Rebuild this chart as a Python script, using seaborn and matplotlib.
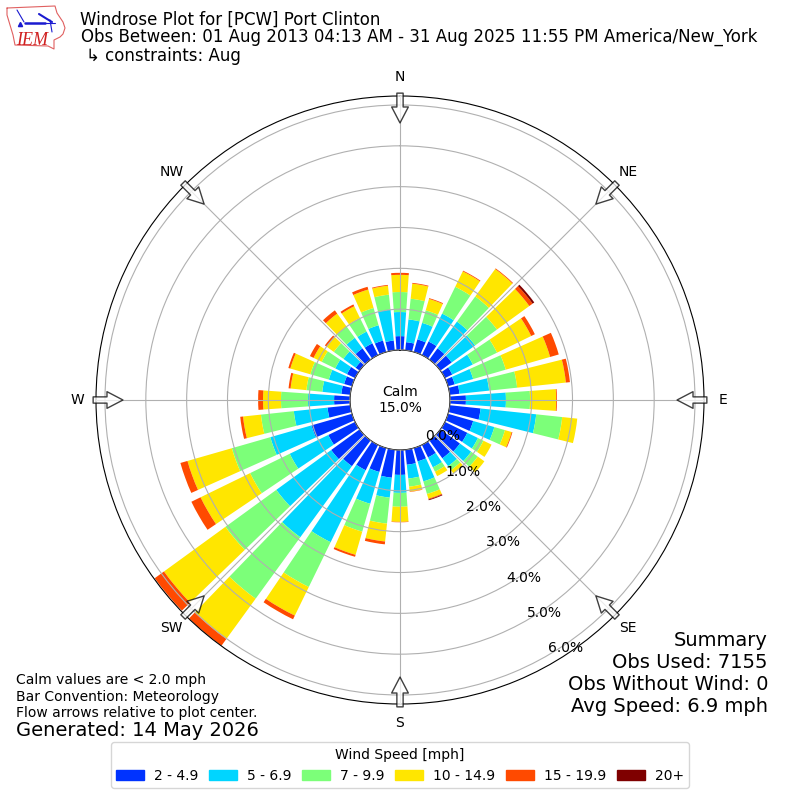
import numpy as np
import pandas as pd
import matplotlib
matplotlib.use("Agg")
import matplotlib.pyplot as plt
from matplotlib.patches import Patch
import seaborn as sns

directions = list(range(0, 360, 10))
speed_labels = ["2 - 4.9", "5 - 6.9", "7 - 9.9", "10 - 14.9", "15 - 19.9", "20+"]
speed_colors = ["#0033ff", "#00d5ff", "#7cff79", "#ffe600", "#ff4a00", "#7f0000"]

# percent of obs per direction, one list per speed bin
pct_2_5 = [.34, .20, .32, .37, .34, .34, .20, .17, .24, .39, .76, .64, .61, .59, .54, .34, .34, .37,
           .61, .69, .61, .69, .78, .86, .73, 1.03, .56, .39, .22, .20, .22, .12, .34, .32, .29, .24]
pct_5_7 = [.59, .56, .42, .76, .81, .71, .56, .47, .73, .98, 1.37, .54, .29, .34, .24, .27, .51, .34,
           .44, .49, .81, 1.96, 2.15, 1.66, 1.05, 1.05, .83, .64, .47, .39, .32, .37, .32, .32, .39, .76]
pct_7_10 = [.49, .51, .32, .73, .76, .66, .66, .83, .69, .59, .64, .27, .15, .20, .12, .12, .32, .20,
            .34, .64, .71, 1.22, 1.86, 1.54, 1.08, .98, .81, .66, .39, .47, .37, .29, .34, .37, .44, .37]
pct_10_15 = [.42, .37, .29, .42, .83, .98, .93, 1.13, 1.20, .64, .37, .17, .22, .20, .10, .12, .12, .12,
             .37, .44, .59, .78, 1.22, 1.86, 1.35, 1.13, .44, .44, .39, .51, .22, .22, .39, .32, .47, .22]
pct_15_20 = [.05, .02, .02, .02, .02, .10, .10, .22, .10, .02, 0, .02, 0, 0, 0, 0, .02, .01,
             .01, .07, .05, .10, .20, .28, .25, .18, .07, .12, .05, .05, .10, .05, .10, .05, .07, .02]
pct_20_up = [0, 0, 0, 0, 0, .05, 0, 0, 0, 0, 0, 0, 0, 0, 0, 0, .02, 0,
             0, 0, 0, 0, 0, 0, 0, 0, 0, 0, 0, 0, 0, 0, 0, 0, 0, 0]

compass = ["N", "NE", "E", "SE", "S", "SW", "W", "NW"]
ring_values = [0, 1, 2, 3, 4, 5, 6]

# rough logo trace, pixels
logo_x = [7, 55, 57, 63, 65, 63, 60, 54, 54, 48, 15, 13, 10, 7, 7]
logo_y = [8, 6, 13, 22, 28, 34, 37, 40, 49, 46, 45, 35, 25, 15, 8]

sns.set_style("white", {"axes.edgecolor": "black", "text.color": "black", "xtick.color": "black",
                        "ytick.color": "black", "grid.color": "#b0b0b0"})

rows = []
for label, values in zip(speed_labels, [pct_2_5, pct_5_7, pct_7_10, pct_10_15, pct_15_20, pct_20_up]):
    rows.append(pd.DataFrame({"theta": np.radians(directions), "speed": label, "pct": values}))
df = pd.concat(rows, ignore_index=True)

fig = plt.figure(figsize=(8, 8), dpi=100)
ax = fig.add_axes([96 / 800, 96 / 800, 608 / 800, 608 / 800], projection="polar")
ax.set_theta_zero_location("N")
ax.set_theta_direction(-1)

# seaborn puts the first hue on top of the stack, so hand them over reversed
sns.histplot(data=df, x="theta", hue="speed", weights="pct", multiple="stack",
             bins=list(np.radians(np.arange(-5, 356, 10))), shrink=0.8, hue_order=speed_labels[::-1],
             palette=speed_colors[::-1], alpha=1, linewidth=0, legend=False, ax=ax)

ax.set_xlabel("")
ax.set_ylabel("")
ax.set_rorigin(-1.224)
ax.set_rlim(0, 6.22)
ax.set_xticks(np.radians(np.arange(0, 360, 45)))
ax.set_xticklabels(compass, fontsize=10)
ax.tick_params(axis="x", pad=3)
ax.set_yticks(ring_values)
ax.set_yticklabels([f"{v:.1f}%" for v in ring_values], fontsize=10)
ax.set_rlabel_position(150)
ax.grid(True, color="#b0b0b0", linewidth=0.8)
ax.set_axisbelow(False)

# flow arrows pointing at the centre
for a in np.arange(0, 360, 45):
    ax.annotate("", xy=(np.radians(a), 5.56), xytext=(np.radians(a), 6.29), annotation_clip=False,
                arrowprops=dict(facecolor="white", edgecolor="black", alpha=0.75, width=4.5,
                                headwidth=12, headlength=11.5, shrink=0, linewidth=1))

ax.text(0.5, 0.5, "Calm\n15.0%", transform=ax.transAxes, ha="center", va="center", fontsize=10)

fig.text(80 / 800, 1 - 25 / 800, "Windrose Plot for [PCW] Port Clinton", fontsize=12)
fig.text(81 / 800, 1 - 42 / 800, "Obs Between: 01 Aug 2013 04:13 AM - 31 Aug 2025 11:55 PM America/New_York", fontsize=12)
fig.text(86 / 800, 1 - 61 / 800, "↳ constraints: Aug", fontsize=12)

for y, line in zip([646, 668, 690, 712], ["Summary", "Obs Used: 7155", "Obs Without Wind: 0", "Avg Speed: 6.9 mph"]):
    fig.text(768 / 800, 1 - y / 800, line, ha="right", fontsize=14)

for y, line in zip([684, 701, 717], ["Calm values are < 2.0 mph", "Bar Convention: Meteorology",
                                     "Flow arrows relative to plot center."]):
    fig.text(16 / 800, 1 - y / 800, line, fontsize=10)
fig.text(16 / 800, 1 - 736 / 800, "Generated: 14 May 2026", fontsize=14)

handles = [Patch(color=c, label=l) for c, l in zip(speed_colors, speed_labels)]
fig.legend(handles=handles, title="Wind Speed [mph]", ncol=6, loc="lower center", frameon=True,
           bbox_to_anchor=(0.5, 0.006), fontsize=10, title_fontsize=10,
           columnspacing=0.8, handletextpad=0.7)

# logo
logo = fig.add_axes([0, 1 - 60 / 800, 75 / 800, 60 / 800])
logo.set_xlim(0, 75)
logo.set_ylim(60, 0)
logo.axis("off")
logo.plot(logo_x, logo_y, color="#e06060", linewidth=0.8)
logo.plot([25, 45], [23, 23], color="#1a1ad0", linewidth=1.8)
logo.plot([45, 55], [23, 23], color="#1a1ad0", linewidth=0.8)
logo.plot([39, 47, 52], [14, 19, 22], color="#1a1ad0", linewidth=1.5)
logo.plot([50, 52], [20, 32], color="#1a1ad0", linewidth=0.8)
logo.plot([17, 24], [10, 22], color="#1a1ad0", linewidth=0.8)
logo.plot([20], [24], marker="^", markersize=3, color="#1a1ad0")
logo.text(16, 45, "IEM", color="#d02020", fontsize=13, family="Liberation Serif", style="italic")

fig.savefig("out.png", dpi=100)
